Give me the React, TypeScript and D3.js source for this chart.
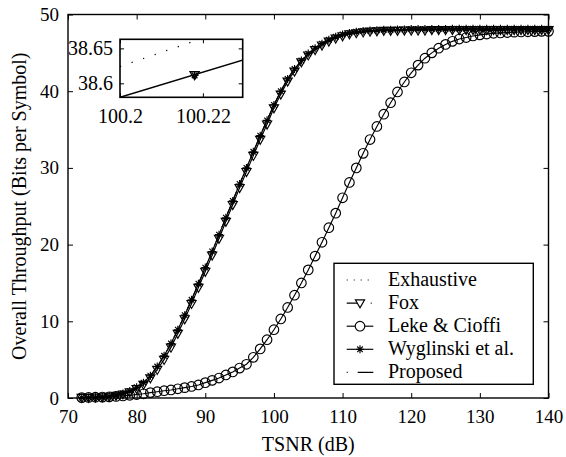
import { useEffect, useRef } from "react";
import * as d3 from "d3";

// TSNR (dB) sample points
const snr = [
  72, 73, 74, 75, 76, 77, 78, 79, 80, 81, 82, 83, 84, 85, 86, 87, 88, 89, 90, 91,
  92, 93, 94, 95, 96, 97, 98, 99, 100, 101, 102, 103, 104, 105, 106, 107, 108, 109, 110, 111,
  112, 113, 114, 115, 116, 117, 118, 119, 120, 121, 122, 123, 124, 125, 126, 127, 128, 129, 130, 131,
  132, 133, 134, 135, 136, 137, 138, 139, 140,
];

// throughput of the near-optimal schemes (exhaustive / proposed / Wyglinski overlap)
const exhaustive = [
  0.05, 0.07, 0.1, 0.15, 0.25, 0.4, 0.6, 0.9, 1.4, 2.0, 2.9, 4.1, 5.5, 7.1, 8.9, 10.8, 12.8, 14.9, 17.0, 19.1,
  21.3, 23.5, 25.7, 27.9, 30.0, 32.1, 34.2, 36.2, 38.2, 40.0, 41.6, 42.9, 44.0, 44.9, 45.6, 46.2, 46.7, 47.1, 47.4, 47.6,
  47.75, 47.85, 47.9, 47.95, 48.0, 48.0, 48.05, 48.05, 48.1, 48.1, 48.1, 48.1, 48.1, 48.1, 48.15, 48.15, 48.15, 48.15, 48.15, 48.15,
  48.15, 48.15, 48.15, 48.15, 48.15, 48.15, 48.15, 48.15, 48.15,
];
const proposed = exhaustive;
const wyglinski = exhaustive;

const fox = [
  0.05, 0.06, 0.09, 0.13, 0.2, 0.33, 0.5, 0.78, 1.2, 1.75, 2.6, 3.7, 5.0, 6.6, 8.4, 10.3, 12.3, 14.4, 16.5, 18.6,
  20.8, 23.0, 25.2, 27.4, 29.5, 31.6, 33.7, 35.7, 37.8, 39.6, 41.3, 42.6, 43.8, 44.7, 45.4, 46.0, 46.5, 46.9, 47.2, 47.45,
  47.6, 47.7, 47.8, 47.85, 47.9, 47.9, 47.9, 47.95, 47.95, 47.95, 47.95, 48.0, 48.0, 48.0, 48.0, 48.0, 48.0, 48.0, 48.0, 48.0,
  48.0, 48.0, 48.0, 48.0, 48.0, 48.0, 48.0, 48.0, 48.0,
];

const lekeCioffi = [
  0.05, 0.07, 0.1, 0.12, 0.15, 0.2, 0.27, 0.35, 0.45, 0.55, 0.7, 0.82, 0.95, 1.05, 1.2, 1.35, 1.5, 1.7, 2.0, 2.3,
  2.6, 3.0, 3.4, 3.9, 4.4, 5.3, 6.4, 7.6, 8.9, 10.3, 11.8, 13.4, 15.0, 16.7, 18.5, 20.3, 22.2, 24.1, 26.1, 28.1,
  30.0, 31.9, 33.7, 35.4, 37.0, 38.5, 39.9, 41.2, 42.4, 43.4, 44.3, 45.0, 45.6, 46.1, 46.5, 46.8, 47.0, 47.2, 47.35, 47.45,
  47.55, 47.6, 47.65, 47.7, 47.72, 47.75, 47.77, 47.8, 47.8,
];

const xTicks = [70, 80, 90, 100, 110, 120, 130, 140];
const yTicks = [0, 10, 20, 30, 40, 50];
const legendLabels = ["Exhaustive", "Fox", "Leke & Cioffi", "Wyglinski et al.", "Proposed"];

// zoomed inset
const insetSnr = [100.2, 100.23];
const insetExhaustive = [38.624, 38.685];
const insetProposed = [38.58, 38.634];
const insetFoxSnr = [100.218];
const insetFox = [38.612];
const insetXTicks = [100.2, 100.22];
const insetYTicks = [38.6, 38.65];

const FONT = "Liberation Serif, Times New Roman, serif";
const triangle = "M-4.6,-3.2L4.6,-3.2L0,4.8Z";
const asterisk = "M-4,0H4M0,-4V4M-2.8,-2.8L2.8,2.8M-2.8,2.8L2.8,-2.8";
const SW = 1.15;

function App() {
  const ref = useRef<SVGSVGElement>(null);

  useEffect(() => {
    const svg = d3.select(ref.current);
    svg.selectAll("*").remove();

    const left = 68, right = 548.5, top = 14.5, bottom = 398;
    const x = d3.scaleLinear().domain([70, 140]).range([left, right]);
    const y = d3.scaleLinear().domain([0, 50]).range([bottom, top]);

    svg.append("rect").attr("width", 566).attr("height", 457).attr("fill", "#fff");

    const line = (vals: number[]) =>
      d3.line<number>().x((d, i) => x(snr[i])).y((d) => y(d))(vals);

    // lines
    svg.append("path").attr("d", line(exhaustive)).attr("fill", "none")
      .attr("stroke", "#000").attr("stroke-width", SW).attr("stroke-dasharray", "1,3");
    svg.append("path").attr("d", line(proposed)).attr("fill", "none")
      .attr("stroke", "#000").attr("stroke-width", SW).attr("stroke-dasharray", "8,3,1,3");
    svg.append("path").attr("d", line(fox)).attr("fill", "none")
      .attr("stroke", "#000").attr("stroke-width", SW);
    svg.append("path").attr("d", line(wyglinski)).attr("fill", "none")
      .attr("stroke", "#000").attr("stroke-width", SW);
    svg.append("path").attr("d", line(lekeCioffi)).attr("fill", "none")
      .attr("stroke", "#000").attr("stroke-width", SW);

    // markers
    svg.append("g").selectAll("circle").data(lekeCioffi).enter().append("circle")
      .attr("cx", (d, i) => x(snr[i])).attr("cy", (d) => y(d)).attr("r", 4.8)
      .attr("fill", "none").attr("stroke", "#000").attr("stroke-width", SW);
    svg.append("g").selectAll("path").data(fox).enter().append("path")
      .attr("d", triangle)
      .attr("transform", (d, i) => `translate(${x(snr[i])},${y(d)})`)
      .attr("fill", "none").attr("stroke", "#000").attr("stroke-width", SW);
    svg.append("g").selectAll("path").data(wyglinski).enter().append("path")
      .attr("d", asterisk)
      .attr("transform", (d, i) => `translate(${x(snr[i])},${y(d)})`)
      .attr("fill", "none").attr("stroke", "#000").attr("stroke-width", SW);

    // axes, ticks inside on all four sides
    const styleAxis = (g: any) => {
      g.select(".domain").remove();
      g.selectAll("line").attr("stroke", "#000").attr("stroke-width", 1);
      g.attr("font-family", null).attr("font-size", null);
      g.selectAll("text").attr("fill", "#000")
        .style("font-family", FONT).style("font-size", "19px");
    };
    svg.append("g").attr("transform", `translate(0,${bottom})`)
      .call(d3.axisBottom(x).tickValues(xTicks).tickSize(-5).tickPadding(12))
      .call(styleAxis);
    svg.append("g").attr("transform", `translate(0,${top})`)
      .call(d3.axisTop(x).tickValues(xTicks).tickSize(-5).tickFormat(() => ""))
      .call(styleAxis);
    svg.append("g").attr("transform", `translate(${left},0)`)
      .call(d3.axisLeft(y).tickValues(yTicks).tickSize(-5).tickPadding(9))
      .call(styleAxis);
    svg.append("g").attr("transform", `translate(${right},0)`)
      .call(d3.axisRight(y).tickValues(yTicks).tickSize(-5).tickFormat(() => ""))
      .call(styleAxis);
    svg.append("rect").attr("x", left).attr("y", top)
      .attr("width", right - left).attr("height", bottom - top)
      .attr("fill", "none").attr("stroke", "#000").attr("stroke-width", 1.4);

    // axis titles
    svg.append("text").attr("x", (left + right) / 2).attr("y", 451)
      .attr("text-anchor", "middle").style("font-family", FONT).style("font-size", "20px")
      .text("TSNR (dB)");
    svg.append("text")
      .attr("transform", `translate(26,${(top + bottom) / 2}) rotate(-90)`)
      .attr("text-anchor", "middle").style("font-family", FONT).style("font-size", "20px")
      .text("Overall Throughput (Bits per Symbol)");

    // inset
    const il = 120, ir = 242.7, it = 39.3, ib = 97.3;
    const ix = d3.scaleLinear().domain([100.2, 100.2296]).range([il, ir]);
    const iy = d3.scaleLinear().domain([38.58, 38.663]).range([ib, it]);
    svg.append("rect").attr("x", il).attr("y", it).attr("width", ir - il).attr("height", ib - it)
      .attr("fill", "#fff");
    svg.append("clipPath").attr("id", "insetClip").append("rect")
      .attr("x", il).attr("y", it).attr("width", ir - il).attr("height", ib - it);
    const inset = svg.append("g").attr("clip-path", "url(#insetClip)");
    const iline = (vals: number[]) =>
      d3.line<number>().x((d, i) => ix(insetSnr[i])).y((d) => iy(d))(vals);
    inset.append("path").attr("d", iline(insetExhaustive)).attr("fill", "none")
      .attr("stroke", "#000").attr("stroke-width", 1.3).attr("stroke-dasharray", "1.2,11");
    inset.append("path").attr("d", iline(insetProposed)).attr("fill", "none")
      .attr("stroke", "#000").attr("stroke-width", 1.4);
    insetFox.forEach((v, i) => {
      const tr = `translate(${ix(insetFoxSnr[i])},${iy(v)})`;
      inset.append("path").attr("d", triangle).attr("transform", tr)
        .attr("fill", "none").attr("stroke", "#000").attr("stroke-width", 1.3);
      inset.append("path").attr("d", asterisk).attr("transform", tr + " translate(0,0.5)")
        .attr("fill", "none").attr("stroke", "#000").attr("stroke-width", 1.3);
    });
    const big = (g: any) => g.selectAll("text").style("font-size", "20px");
    svg.append("g").attr("transform", `translate(0,${ib})`)
      .call(d3.axisBottom(ix).tickValues(insetXTicks).tickSize(-4).tickPadding(12)
        .tickFormat((d) => String(d)))
      .call(styleAxis).call(big);
    svg.append("g").attr("transform", `translate(0,${it})`)
      .call(d3.axisTop(ix).tickValues(insetXTicks).tickSize(-4).tickFormat(() => ""))
      .call(styleAxis);
    svg.append("g").attr("transform", `translate(${il},0)`)
      .call(d3.axisLeft(iy).tickValues(insetYTicks).tickSize(-4).tickPadding(7)
        .tickFormat((d) => String(d)))
      .call(styleAxis).call(big);
    svg.append("g").attr("transform", `translate(${ir},0)`)
      .call(d3.axisRight(iy).tickValues(insetYTicks).tickSize(-4).tickFormat(() => ""))
      .call(styleAxis);
    svg.append("rect").attr("x", il).attr("y", it).attr("width", ir - il).attr("height", ib - it)
      .attr("fill", "none").attr("stroke", "#000").attr("stroke-width", 1.6);

    // legend
    const lx = 334, ly = 263.3, lw = 199.3, lh = 121;
    svg.append("rect").attr("x", lx).attr("y", ly).attr("width", lw).attr("height", lh)
      .attr("fill", "#fff").attr("stroke", "#000").attr("stroke-width", 1.4);
    const rowY = (i: number) => 280 + i * 23.1;
    const s0 = 346.7, s1 = 373.3, mid = 360;
    legendLabels.forEach((label, i) => {
      const ry = rowY(i);
      const g = svg.append("g");
      if (i === 0) {
        g.append("path").attr("d", `M${s0},${ry}H${s1}`).attr("stroke", "#000")
          .attr("stroke-width", SW).attr("stroke-dasharray", "1,6");
      } else if (i === 1) {
        g.append("path").attr("d", `M${s0},${ry}H${s1}`).attr("stroke", "#000")
          .attr("stroke-width", SW).attr("stroke-dasharray", "13,11,1,10");
        g.append("path").attr("d", triangle).attr("transform", `translate(${mid},${ry})`)
          .attr("fill", "#fff").attr("stroke", "#000").attr("stroke-width", SW);
      } else if (i === 2) {
        g.append("path").attr("d", `M${s0},${ry}H${s1}`).attr("stroke", "#000").attr("stroke-width", SW);
        g.append("circle").attr("cx", mid).attr("cy", ry).attr("r", 4.8)
          .attr("fill", "#fff").attr("stroke", "#000").attr("stroke-width", SW);
      } else if (i === 3) {
        g.append("path").attr("d", `M${s0},${ry}H${s1}`).attr("stroke", "#000").attr("stroke-width", SW);
        g.append("path").attr("d", asterisk).attr("transform", `translate(${mid},${ry})`)
          .attr("fill", "none").attr("stroke", "#000").attr("stroke-width", SW);
      } else {
        g.append("path").attr("d", `M${s0},${ry}H${s1}`).attr("stroke", "#000")
          .attr("stroke-width", 1.3).attr("stroke-dasharray", "1,10,16,10");
      }
      g.append("text").attr("x", 388).attr("y", ry).attr("dy", "0.3em")
        .style("font-family", FONT).style("font-size", "20px").text(label);
    });
  }, []);

  return (
    <svg ref={ref} width={566} height={457}
      style={{ position: "absolute", left: 0, top: 0, display: "block" }} />
  );
}

export default App;
